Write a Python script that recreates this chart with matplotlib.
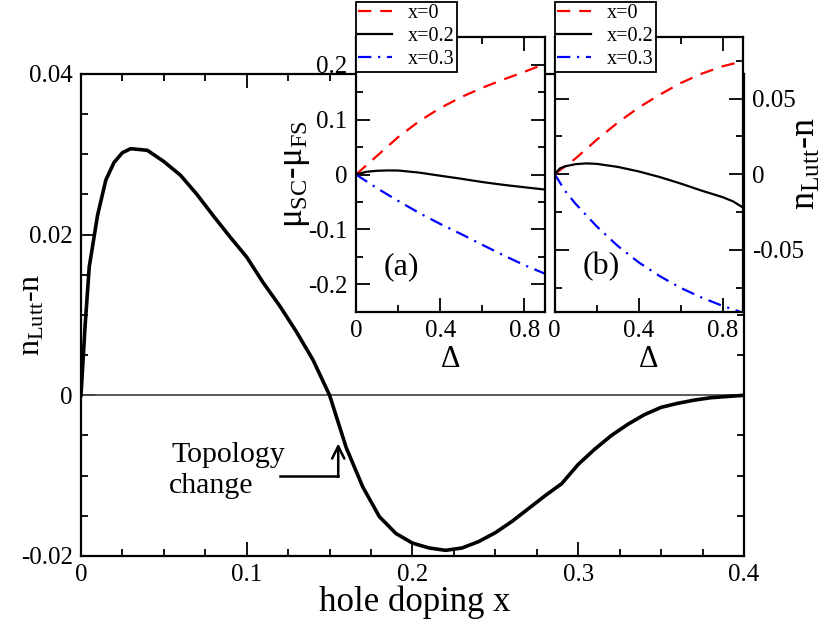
import numpy as np
import matplotlib
matplotlib.use("Agg")
import matplotlib.pyplot as plt
from matplotlib.ticker import MultipleLocator, FuncFormatter

plt.rcParams['font.family'] = ['Liberation Serif', 'DejaVu Serif']
plt.rcParams['mathtext.fontset'] = 'custom'
plt.rcParams['mathtext.rm'] = 'Liberation Serif'
plt.rcParams['mathtext.it'] = 'Liberation Serif:italic'
plt.rcParams['axes.unicode_minus'] = False

# --- main panel: n_Lutt - n vs hole doping ---
doping = [0, 0.0025, 0.005, 0.01, 0.015, 0.02, 0.025, 0.03, 0.04, 0.05,
          0.06, 0.07, 0.08, 0.09, 0.10, 0.11, 0.12, 0.13, 0.14, 0.15,
          0.16, 0.17, 0.18, 0.19, 0.20, 0.21, 0.22, 0.23, 0.24, 0.25,
          0.26, 0.27, 0.28, 0.29, 0.30, 0.31, 0.32, 0.33, 0.34, 0.35,
          0.36, 0.37, 0.38, 0.39, 0.40]
n_diff = [0, 0.0087, 0.016, 0.0224, 0.0268, 0.029, 0.0302, 0.0307, 0.0305, 0.0291,
          0.0274, 0.0250, 0.0223, 0.0197, 0.0172, 0.0140, 0.0111, 0.0079, 0.0044, 0.0,
          -0.0065, -0.0114, -0.0151, -0.0172, -0.0184, -0.0190, -0.0193, -0.0190, -0.0182, -0.0171,
          -0.0157, -0.0141, -0.0125, -0.0110, -0.0086, -0.0067, -0.0050, -0.0036, -0.0024, -0.0015,
          -0.0010, -0.0006, -0.0003, -0.00015, 0.0]

# --- inset (a): mu_SC - mu_FS vs Delta ---
delta = [0, 0.1, 0.2, 0.3, 0.4, 0.5, 0.6, 0.7, 0.8, 0.9]
mu_x0 = [0, 0.034, 0.068, 0.097, 0.121, 0.141, 0.158, 0.173, 0.187, 0.202]
delta_a2 = [0, 0.05, 0.1, 0.15, 0.2, 0.3, 0.4, 0.5, 0.6, 0.7, 0.8, 0.9]
mu_x02 = [0, 0.005, 0.0068, 0.0074, 0.0073, 0.0035, -0.0022, -0.0077, -0.0137, -0.0188, -0.0232, -0.0275]
mu_x03 = [0, -0.025, -0.048, -0.070, -0.090, -0.1085, -0.128, -0.147, -0.165, -0.181]

# --- inset (b): n_Lutt - n vs Delta ---
nl_x0 = [0, 0.0104, 0.0227, 0.034, 0.044, 0.0525, 0.0602, 0.0664, 0.0713, 0.0748]
delta_b2 = [0, 0.025, 0.05, 0.1, 0.15, 0.2, 0.3, 0.4, 0.5, 0.6, 0.7, 0.8, 0.85, 0.9]
nl_x02 = [0, 0.0038, 0.0052, 0.0066, 0.0071, 0.0068, 0.0048, 0.0018, -0.0019, -0.0062,
          -0.0109, -0.0152, -0.0180, -0.0223]
delta_b3 = [0, 0.05, 0.1, 0.2, 0.3, 0.4, 0.5, 0.6, 0.7, 0.8, 0.9]
nl_x03 = [0, -0.0112, -0.0197, -0.0345, -0.0474, -0.0583, -0.0674, -0.0752, -0.0816, -0.0871, -0.0918]

legend_labels = ['x=0', 'x=0.2', 'x=0.3']

fig = plt.figure(figsize=(8.22, 6.3), dpi=100)

def style_ticks(a):
    a.tick_params(which='both', direction='in', top=True, right=True, width=1.3, labelsize=18, pad=6)
    a.tick_params(which='major', length=10)
    a.tick_params(which='minor', length=5)
    for s in a.spines.values():
        s.set_linewidth(1.6)

g = FuncFormatter(lambda v, p: '%g' % round(v, 6))

# main axes
ax = fig.add_axes([0.0985, 0.1175, 0.8066, 0.7651])
ax.plot(doping, n_diff, color='black', lw=2.6, zorder=3)
ax.axhline(0, color='0.3', lw=1.3, zorder=2)
ax.set_xlim(0, 0.4)
ax.set_ylim(-0.02, 0.04)
ax.xaxis.set_major_locator(MultipleLocator(0.1))
ax.xaxis.set_minor_locator(MultipleLocator(0.025))
ax.yaxis.set_major_locator(MultipleLocator(0.02))
ax.yaxis.set_minor_locator(MultipleLocator(0.005))
ax.xaxis.set_major_formatter(g)
ax.yaxis.set_major_formatter(g)
style_ticks(ax)
ax.set_xlabel('hole doping x', fontsize=25)
ax.xaxis.set_label_coords(0.504, -0.062)
ax.set_ylabel(r'n$_{\rm Lutt}$-n', fontsize=23)
ax.yaxis.set_label_coords(-0.052, 0.5)

# topology change annotation
ax.text(0.0545, -0.0074, 'Topology', fontsize=21.5, ha='left', va='center')
ax.text(0.0532, -0.0113, 'change', fontsize=21.5, ha='left', va='center')
ax.plot([0.120, 0.1552], [-0.01005, -0.01005], color='black', lw=1.8)
ax.annotate('', xy=(0.1552, -0.0060), xytext=(0.1552, -0.01015),
            arrowprops=dict(arrowstyle='->', lw=1.8, color='black',
                            mutation_scale=22, shrinkA=0, shrinkB=0))

# inset (a)
axa = fig.add_axes([0.4331, 0.5052, 0.2303, 0.4356])
la1, = axa.plot(delta, mu_x0, color='red', lw=1.6, linestyle=(0, (6, 4)))
la2, = axa.plot(delta_a2, mu_x02, color='black', lw=1.6)
la3, = axa.plot(delta, mu_x03, color='blue', lw=1.6, linestyle=(0, (6, 3, 1, 3)))
axa.set_xlim(0, 0.9)
axa.set_ylim(-0.25, 0.25)
axa.xaxis.set_major_locator(MultipleLocator(0.4))
axa.xaxis.set_minor_locator(MultipleLocator(0.2))
axa.yaxis.set_major_locator(MultipleLocator(0.1))
axa.yaxis.set_minor_locator(MultipleLocator(0.05))
axa.xaxis.set_major_formatter(g)
axa.yaxis.set_major_formatter(g)
style_ticks(axa)
axa.set_xlabel('Δ', fontsize=22)
axa.xaxis.set_label_coords(0.5, -0.12)
axa.set_ylabel(r'μ$_{\rm SC}$-μ$_{\rm FS}$', fontsize=25)
axa.yaxis.set_label_coords(-0.235, 0.5)
axa.text(0.241, 0.164, '(a)', transform=axa.transAxes, fontsize=23, ha='center', va='center')

# inset (b)
axb = fig.add_axes([0.6748, 0.5052, 0.2297, 0.4356])
lb1, = axb.plot(delta, nl_x0, color='red', lw=1.6, linestyle=(0, (6, 4)))
lb2, = axb.plot(delta_b2, nl_x02, color='black', lw=1.6)
lb3, = axb.plot(delta_b3, nl_x03, color='blue', lw=1.6, linestyle=(0, (6, 3, 1, 3)))
axb.set_xlim(0, 0.9)
axb.set_ylim(-0.091, 0.0905)
axb.xaxis.set_major_locator(MultipleLocator(0.4))
axb.xaxis.set_minor_locator(MultipleLocator(0.2))
axb.yaxis.set_major_locator(MultipleLocator(0.05))
axb.yaxis.set_minor_locator(MultipleLocator(0.025))
axb.xaxis.set_major_formatter(g)
axb.yaxis.set_major_formatter(g)
style_ticks(axb)
axb.tick_params(axis='y', which='both', labelleft=False, labelright=True)
axb.set_xlabel('Δ', fontsize=22)
axb.xaxis.set_label_coords(0.5, -0.12)
axb.yaxis.set_label_position('right')
axb.set_ylabel(r'n$_{\rm Lutt}$-n', fontsize=26)
axb.yaxis.set_label_coords(1.245, 0.54)
axb.text(0.249, 0.164, '(b)', transform=axb.transAxes, fontsize=23, ha='center', va='center')

for handles, x0 in (([la1, la2, la3], 0.4328), ([lb1, lb2, lb3], 0.6748)):
    leg = fig.legend(handles, legend_labels, loc='lower left',
                     bbox_to_anchor=(x0, 1 - 71.7 / 630), bbox_transform=fig.transFigure,
                     fontsize=14.5, frameon=True, fancybox=False, framealpha=1,
                     edgecolor='black', borderaxespad=0, handlelength=1.7,
                     handletextpad=0.75, labelspacing=0.2, borderpad=0.12)
    leg.get_frame().set_linewidth(1.3)
    leg.set_zorder(10)

fig.savefig('out.png', dpi=100)
